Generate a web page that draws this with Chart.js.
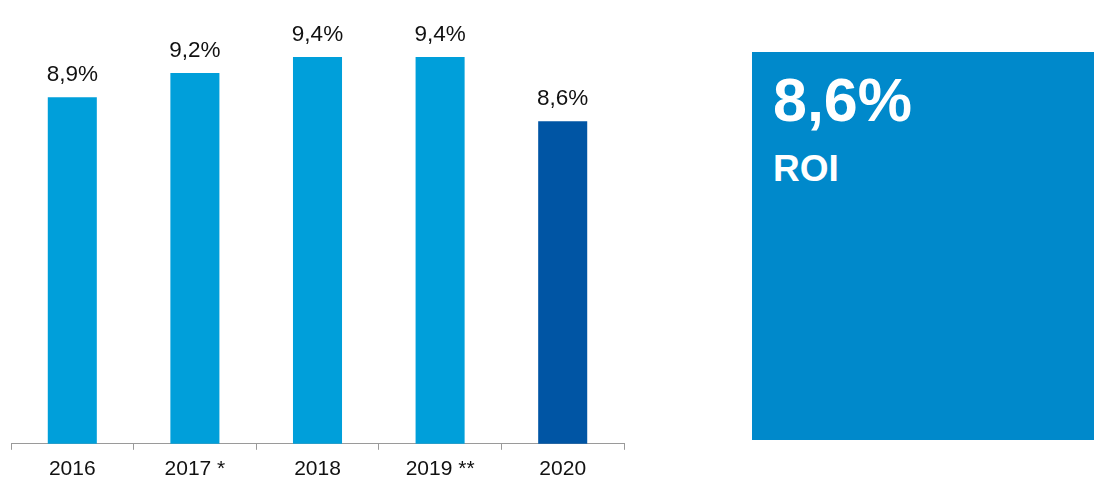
<!DOCTYPE html>
<html>
<head>
<meta charset="utf-8">
<script src="https://cdn.jsdelivr.net/npm/chart.js@4/dist/chart.umd.min.js"></script>
<style>
  html, body { margin: 0; padding: 0; background: #fff; }
  body { width: 1094px; height: 478px; position: relative; overflow: hidden; font-family: "Liberation Sans", Arial, sans-serif; }
  #wrap { position: absolute; left: 0; top: 0; width: 640px; height: 494px; }
  #kpi { position: absolute; left: 752px; top: 52px; width: 342px; height: 388px; background: #0089CB; color: #fff; }
  #kpi .val { position: absolute; left: 21px; top: 12px; font-weight: bold; font-size: 61px; line-height: 72px; }
  #kpi .lbl { position: absolute; left: 21px; top: 96px; font-weight: bold; font-size: 37px; line-height: 42px; }
</style>
</head>
<body>
<div id="wrap"><canvas id="c"></canvas></div>
<div id="kpi"><div class="val">8,6%</div><div class="lbl">ROI</div></div>
<script>
// ROI by year
const years = ['2016', '2017 *', '2018', '2019 **', '2020'];
const roi = [8.9, 9.2, 9.4, 9.4, 8.6];
const barColors = ['#009FDA', '#009FDA', '#009FDA', '#009FDA', '#0055A4'];

const fmt = v => v.toFixed(1).replace('.', ',') + '%';

// Value labels above each bar
const valueLabels = {
  id: 'valueLabels',
  afterDatasetsDraw(chart) {
    const ctx = chart.ctx;
    const meta = chart.getDatasetMeta(0);
    ctx.save();
    ctx.font = '22.5px "Liberation Sans", Arial, sans-serif';
    ctx.fillStyle = '#111';
    ctx.textAlign = 'center';
    ctx.textBaseline = 'alphabetic';
    meta.data.forEach((bar, i) => {
      ctx.fillText(fmt(roi[i]), bar.x, bar.y - 16);
    });
    ctx.restore();
  }
};

new Chart(document.getElementById('c'), {
  type: 'bar',
  data: {
    labels: years,
    datasets: [{
      data: roi,
      backgroundColor: barColors,
      borderWidth: 0,
      barPercentage: 0.4,
      categoryPercentage: 1.0
    }]
  },
  options: {
    responsive: true,
    maintainAspectRatio: false,
    animation: false,
    layout: { padding: { left: 11, right: 16, top: 20, bottom: 5 } },
    plugins: { legend: { display: false }, tooltip: { enabled: false } },
    scales: {
      x: {
        grid: { offset: true, drawOnChartArea: false, drawTicks: true, tickLength: 6, color: '#9a9a9a', lineWidth: 1 },
        border: { display: true, color: '#9a9a9a', width: 1 },
        ticks: { color: '#111', font: { family: '"Liberation Sans", Arial, sans-serif', size: 21 }, padding: 7, maxRotation: 0 }
      },
      y: { display: false, min: 4.575, max: 9.8625 }
    }
  },
  plugins: [valueLabels]
});
</script>
</body>
</html>
